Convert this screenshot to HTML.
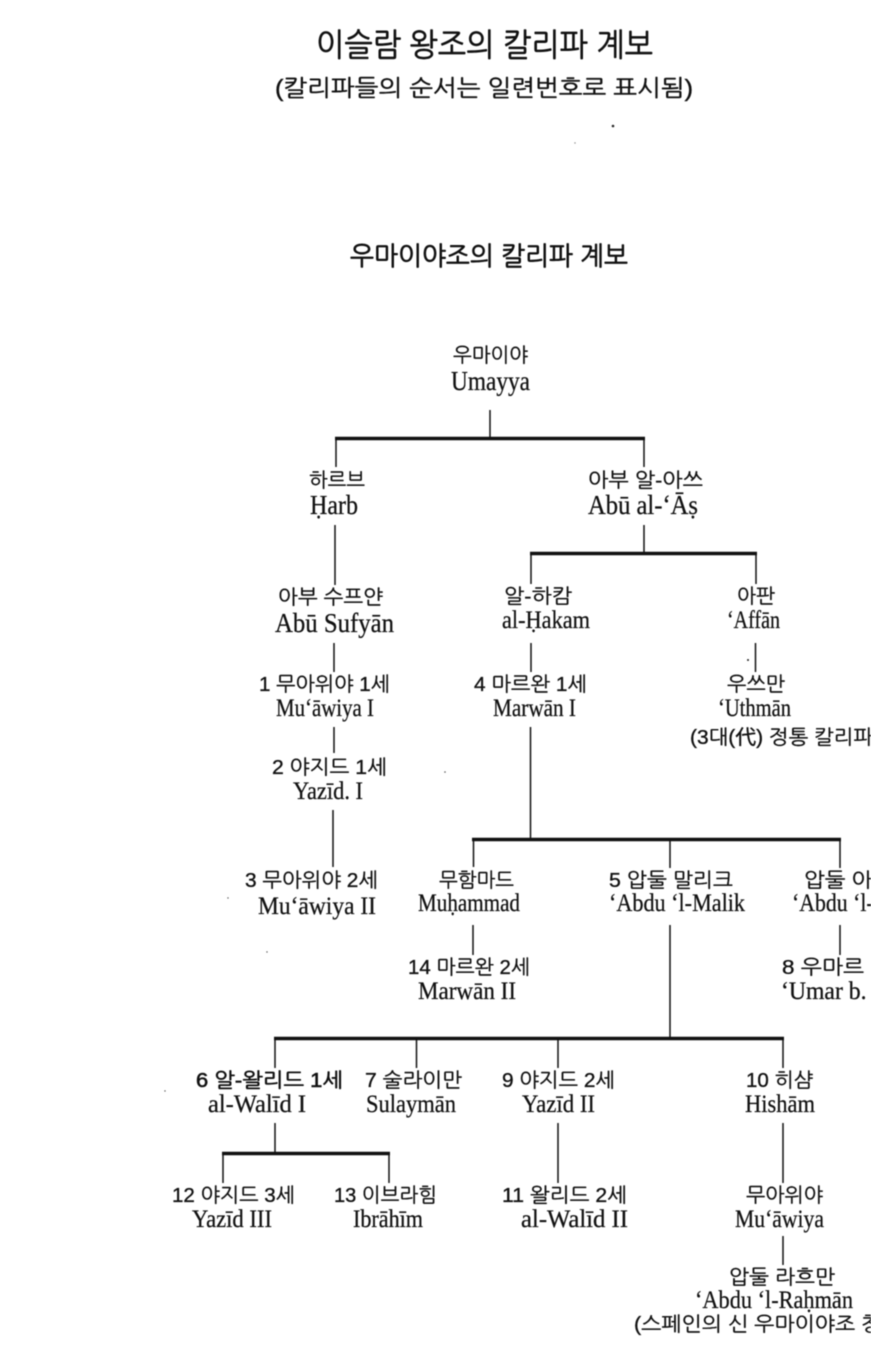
<!DOCTYPE html>
<html lang="ko"><head><meta charset="utf-8"><title>이슬람 왕조의 칼리파 계보</title>
<style>
html,body{margin:0;padding:0;background:#fff;width:871px;height:1366px;overflow:hidden}
svg{display:block;filter:blur(.4px)}
.k{font-family:"Liberation Sans","NanumGothic","Noto Sans CJK KR",sans-serif;font-size:20px;fill:#111;stroke:#111;stroke-width:.35}
.l{font-family:"Liberation Serif","Noto Serif CJK SC",serif;font-size:25px;fill:#111;stroke:#111;stroke-width:.25}
.x{font-size:27px}
.t{stroke:#111;stroke-width:1.5;fill:none}
.b{stroke:#111;stroke-width:3.4;fill:none}
</style></head><body>
<svg width="871" height="1366" viewBox="0 0 871 1366" xmlns="http://www.w3.org/2000/svg">
<text class="k" x="316" y="56" style="font-size:32px;stroke-width:.6" textLength="337" lengthAdjust="spacingAndGlyphs">이슬람 왕조의 칼리파 계보</text>
<text class="k" x="275" y="96" style="font-size:23px;stroke-width:.45" textLength="418" lengthAdjust="spacingAndGlyphs">(칼리파들의 순서는 일련번호로 표시됨)</text>
<text class="k" x="350" y="265" style="font-size:26px;stroke-width:.7" textLength="278" lengthAdjust="spacingAndGlyphs">우마이야조의 칼리파 계보</text>

<text class="k" x="453" y="362" textLength="75" lengthAdjust="spacingAndGlyphs">우마이야</text>
<text class="l x" x="451" y="390" textLength="79" lengthAdjust="spacingAndGlyphs">Umayya</text>
<text class="k" x="309" y="487" textLength="56" lengthAdjust="spacingAndGlyphs">하르브</text>
<text class="l x" x="310" y="514" textLength="48" lengthAdjust="spacingAndGlyphs">Ḥarb</text>
<text class="k" x="588" y="487" textLength="115" lengthAdjust="spacingAndGlyphs">아부 알-아쓰</text>
<text class="l x" x="588" y="514" textLength="110" lengthAdjust="spacingAndGlyphs">Abū al-ʻĀṣ</text>
<text class="k" x="278" y="604" textLength="105" lengthAdjust="spacingAndGlyphs">아부 수프얀</text>
<text class="l x" x="275" y="632" textLength="119" lengthAdjust="spacingAndGlyphs">Abū Sufyān</text>
<text class="k" x="504" y="603" textLength="68" lengthAdjust="spacingAndGlyphs">알-하캄</text>
<text class="l" x="502" y="628" textLength="88" lengthAdjust="spacingAndGlyphs">al-Ḥakam</text>
<text class="k" x="737" y="603" textLength="38" lengthAdjust="spacingAndGlyphs">아판</text>
<text class="l" x="727" y="628" textLength="53" lengthAdjust="spacingAndGlyphs">ʻAffān</text>

<text class="k" x="259" y="691" textLength="131" lengthAdjust="spacingAndGlyphs">1 무아위야 1세</text>
<text class="l" x="276" y="716" textLength="98" lengthAdjust="spacingAndGlyphs">Muʻāwiya I</text>
<text class="k" x="474" y="691" textLength="113" lengthAdjust="spacingAndGlyphs">4 마르완 1세</text>
<text class="l" x="493" y="716" textLength="83" lengthAdjust="spacingAndGlyphs">Marwān I</text>
<text class="k" x="727" y="691" textLength="58" lengthAdjust="spacingAndGlyphs">우쓰만</text>
<text class="l" x="718" y="716" textLength="73" lengthAdjust="spacingAndGlyphs">ʻUthmān</text>
<text class="k" x="690" y="744" textLength="190" lengthAdjust="spacingAndGlyphs">(3대(代) 정통 칼리파)</text>
<text class="k" x="272" y="774" textLength="115" lengthAdjust="spacingAndGlyphs">2 야지드 1세</text>
<text class="l" x="293" y="799" textLength="70" lengthAdjust="spacingAndGlyphs">Yazīd. I</text>

<text class="k" x="245" y="887" textLength="133" lengthAdjust="spacingAndGlyphs">3 무아위야 2세</text>
<text class="l" x="258" y="914" textLength="118" lengthAdjust="spacingAndGlyphs">Muʻāwiya II</text>
<text class="k" x="439" y="887" textLength="75" lengthAdjust="spacingAndGlyphs">무함마드</text>
<text class="l" x="418" y="911" textLength="102" lengthAdjust="spacingAndGlyphs">Muḥammad</text>
<text class="k" x="609" y="887" textLength="124" lengthAdjust="spacingAndGlyphs">5 압둘 말리크</text>
<text class="l" x="609" y="911" textLength="136" lengthAdjust="spacingAndGlyphs">ʻAbdu ʻl-Malik</text>
<text class="k" x="804" y="887" textLength="110" lengthAdjust="spacingAndGlyphs">압둘 아지즈</text>
<text class="l" x="792" y="911" textLength="130" lengthAdjust="spacingAndGlyphs">ʻAbdu ʻl-ʻAzīz</text>
<text class="k" x="408" y="974" textLength="122" lengthAdjust="spacingAndGlyphs">14 마르완 2세</text>
<text class="l" x="418" y="999" textLength="98" lengthAdjust="spacingAndGlyphs">Marwān II</text>
<text class="k" x="782" y="974" textLength="122" lengthAdjust="spacingAndGlyphs">8 우마르 2세</text>
<text class="l" x="781" y="999" textLength="152" lengthAdjust="spacingAndGlyphs">ʻUmar b. ʻAbdu</text>

<text class="k" x="196" y="1087" style="stroke-width:.6" textLength="147" lengthAdjust="spacingAndGlyphs">6 알-왈리드 1세</text>
<text class="l" x="208" y="1112" textLength="98" lengthAdjust="spacingAndGlyphs">al-Walīd I</text>
<text class="k" x="365" y="1087" textLength="97" lengthAdjust="spacingAndGlyphs">7 술라이만</text>
<text class="l" x="366" y="1112" textLength="90" lengthAdjust="spacingAndGlyphs">Sulaymān</text>
<text class="k" x="502" y="1087" textLength="113" lengthAdjust="spacingAndGlyphs">9 야지드 2세</text>
<text class="l" x="522" y="1112" textLength="73" lengthAdjust="spacingAndGlyphs">Yazīd II</text>
<text class="k" x="746" y="1087" textLength="67" lengthAdjust="spacingAndGlyphs">10 히샴</text>
<text class="l" x="745" y="1112" textLength="70" lengthAdjust="spacingAndGlyphs">Hishām</text>

<text class="k" x="172" y="1202" textLength="123" lengthAdjust="spacingAndGlyphs">12 야지드 3세</text>
<text class="l" x="192" y="1227" textLength="80" lengthAdjust="spacingAndGlyphs">Yazīd III</text>
<text class="k" x="334" y="1202" textLength="103" lengthAdjust="spacingAndGlyphs">13 이브라힘</text>
<text class="l" x="353" y="1227" textLength="70" lengthAdjust="spacingAndGlyphs">Ibrāhīm</text>
<text class="k" x="502" y="1202" textLength="125" lengthAdjust="spacingAndGlyphs">11 왈리드 2세</text>
<text class="l" x="521" y="1227" textLength="107" lengthAdjust="spacingAndGlyphs">al-Walīd II</text>
<text class="k" x="746" y="1202" textLength="77" lengthAdjust="spacingAndGlyphs">무아위야</text>
<text class="l" x="735" y="1227" textLength="89" lengthAdjust="spacingAndGlyphs">Muʻāwiya</text>
<text class="k" x="729" y="1284" textLength="106" lengthAdjust="spacingAndGlyphs">압둘 라흐만</text>
<text class="l" x="695" y="1308" textLength="158" lengthAdjust="spacingAndGlyphs">ʻAbdu ʻl-Raḥmān</text>
<text class="k" x="634" y="1331" textLength="295" lengthAdjust="spacingAndGlyphs">(스페인의 신 우마이야조 창건자)</text>

<path class="t" d="M490 410V438M336 438V467M644 438V467M335 525V585M644 525V553M531 553V584M756 553V584M334 643V672M531 643V672M755.500 643V672M334 727V753M530.500 727V839M333 810V867M473.500 839V867M670 839V868M840 839V868M473 925V955M670 925V1038M840 925V955M275 1038V1068M416.500 1038V1068M558 1038V1068M783 1038V1068M275 1123V1153M223 1153V1183M389 1153V1183M558 1123V1183M783 1123V1183M783 1236V1265"/>
<path class="b" d="M335 438.500H645M530 553.500H757M472 839.500H841M274 1038.500H784M222 1153.500H390"/>

<g fill="#222">
<circle cx="613" cy="126" r="1.300"/>
<circle cx="575" cy="143" r=".7" fill="#888"/>
<circle cx="748" cy="660" r="1"/>
<circle cx="445" cy="772" r=".8" fill="#555"/>
<circle cx="228" cy="898" r=".7" fill="#555"/>
<circle cx="267" cy="952" r=".7" fill="#555"/>
<circle cx="165" cy="1091" r=".7" fill="#555"/>
</g>
</svg>
</body></html>
